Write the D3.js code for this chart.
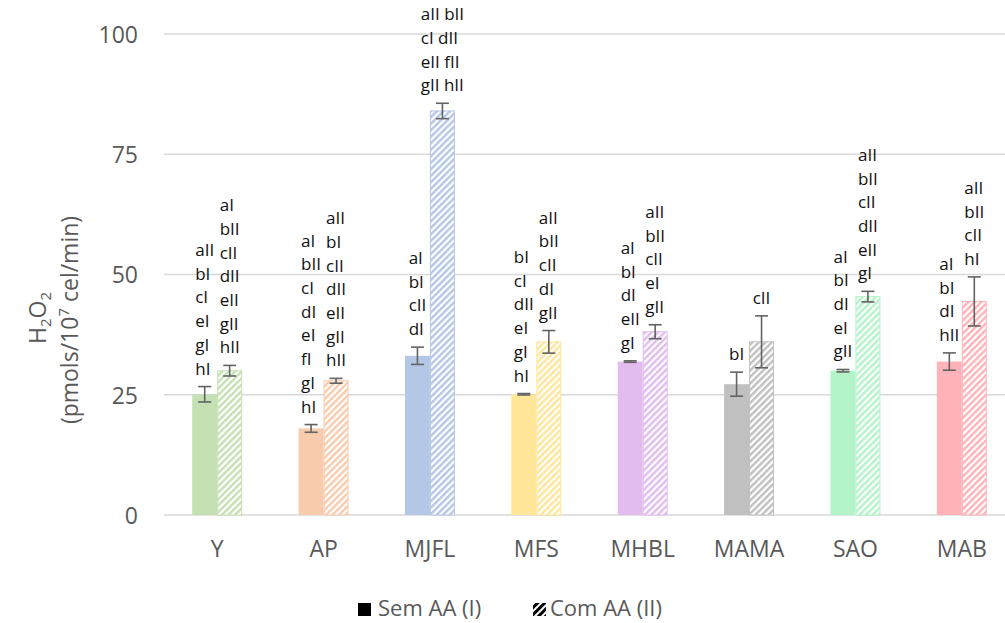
<!DOCTYPE html>
<html><head><meta charset="utf-8">
<script src="https://cdn.jsdelivr.net/npm/d3@7"></script>
<style>body{margin:0;background:#fff;overflow:hidden} text{font-family:"Open Sans",sans-serif}</style>
</head><body><svg id="c" width="1005" height="623"></svg>
<script>
const categories = ["Y","AP","MJFL","MFS","MHBL","MAMA","SAO","MAB"];
const semAA = [25.1, 18.0, 33.1, 25.1, 31.9, 27.2, 30.0, 31.9];
const semErr = [1.6, 0.8, 1.8, 0.15, 0.15, 2.5, 0.25, 1.8];
const comAA = [30.0, 27.9, 84.0, 36.0, 38.1, 36.0, 45.4, 44.4];
const comErr = [1.1, 0.5, 1.6, 2.35, 1.45, 5.4, 1.1, 5.1];
const semLabels = [
  ["aII","bI","cI","eI","gI","hI"],
  ["aI","bII","cI","dI","eI","fI","gI","hI"],
  ["aI","bI","cII","dI"],
  ["bI","cI","dII","eI","gI","hI"],
  ["aI","bI","dI","eII","gI"],
  ["bI"],
  ["aI","bI","dI","eI","gII"],
  ["aI","bI","dI","hII"]
];
const comLabels = [
  ["aI","bII","cII","dII","eII","gII","hII"],
  ["aII","bI","cII","dII","eII","gII","hII"],
  ["aII bII","cI dII","eII fII","gII hII"],
  ["aII","bII","cII","dI","gII"],
  ["aII","bII","cII","eI","gII"],
  ["cII"],
  ["aII","bII","cII","dII","eII","gI"],
  ["aII","bII","cII","hI"]
];
const colors = ["#c5e0b3","#f8cbad","#b4c7e7","#ffe699","#e2bcee","#c0c0c0","#b3f5c8","#ffb3b8"];
const yTicks = [0, 25, 50, 75, 100];
const seriesNames = ["Sem AA (I)", "Com AA (II)"];

const svg = d3.select("#c");
const defs = svg.append("defs");
const textCol = "#595959";

colors.forEach((c, i) => {
  const p = defs.append("pattern").attr("id", "h" + i).attr("patternUnits", "userSpaceOnUse")
    .attr("width", 4.6).attr("height", 4.6).attr("patternTransform", "rotate(45)");
  p.append("rect").attr("width", 4.6).attr("height", 4.6).attr("fill", "#fff");
  p.append("line").attr("x1", 1.2).attr("x2", 1.2).attr("y1", 0).attr("y2", 4.6)
    .attr("stroke", c).attr("stroke-width", 2.4);
});
const pk = defs.append("pattern").attr("id", "hk").attr("patternUnits", "userSpaceOnUse")
  .attr("width", 5).attr("height", 5).attr("patternTransform", "rotate(45)");
pk.append("rect").attr("width", 5).attr("height", 5).attr("fill", "#fff");
pk.append("line").attr("x1", 1.5).attr("x2", 1.5).attr("y1", 0).attr("y2", 5)
  .attr("stroke", "#000").attr("stroke-width", 3);

const y = d3.scaleLinear().domain([0, 100]).range([515, 34]);
const x0 = d3.scaleBand().domain(categories).range([164, 1015]).padding(0);
const x1 = d3.scaleBand().domain(["I","II"]).range([0, x0.bandwidth()]).paddingOuter(1.13).paddingInner(0);

// gridlines
svg.append("g").selectAll("line").data(yTicks).join("line")
  .attr("x1", 164).attr("x2", 1015)
  .attr("y1", d => y(d)).attr("y2", d => y(d))
  .attr("stroke", "#d9d9d9").attr("stroke-width", 1.3);

// y axis labels
const yAxis = svg.append("g").attr("transform", "translate(138,0)")
  .call(d3.axisLeft(y).tickValues(yTicks).tickSize(0).tickPadding(0));
yAxis.select(".domain").remove();
yAxis.selectAll("text").attr("fill", textCol).attr("font-size", 23)
  .attr("font-family", "'Open Sans',sans-serif").attr("dy", "0.36em");

// x axis labels
const xAxis = svg.append("g").attr("transform", "translate(0,515)")
  .call(d3.axisBottom(x0).tickSize(0).tickPadding(0));
xAxis.select(".domain").remove();
xAxis.selectAll("text").attr("fill", textCol).attr("font-size", 23)
  .attr("font-family", "'Open Sans',sans-serif").attr("dy", "1.82em");

// bars
const g = svg.append("g");
categories.forEach((cat, i) => {
  const bx = x0(cat);
  const rows = [
    {k: "I", v: semAA[i], e: semErr[i], labels: semLabels[i], fill: colors[i], stroke: "none"},
    {k: "II", v: comAA[i], e: comErr[i], labels: comLabels[i], fill: "url(#h" + i + ")", stroke: colors[i]}
  ];
  rows.forEach(r => {
    const xx = bx + x1(r.k), w = x1.bandwidth();
    g.append("rect").attr("x", xx + (r.stroke === "none" ? 0 : 0.5)).attr("y", y(r.v))
      .attr("width", w - (r.stroke === "none" ? 0 : 1)).attr("height", y(0) - y(r.v))
      .attr("fill", r.fill).attr("stroke", r.stroke).attr("stroke-width", 1);
    const cx = xx + w / 2;
    const eg = g.append("g").attr("stroke", "#636363").attr("stroke-width", 1.6);
    eg.append("line").attr("x1", cx).attr("x2", cx).attr("y1", y(r.v + r.e)).attr("y2", y(r.v - r.e));
    [r.v + r.e, r.v - r.e].forEach(val => eg.append("line").attr("x1", cx - 6.5).attr("x2", cx + 6.5)
      .attr("y1", y(val)).attr("y2", y(val)));
    // labels
    const n = r.labels.length;
    const baseY = y(r.v + r.e) - 12;
    const tg = g.append("g");
    const texts = tg.selectAll("text").data(r.labels).join("text")
      .attr("y", (d, j) => baseY - (n - 1 - j) * 23.7)
      .attr("font-size", 17).attr("fill", "#111")
      .attr("xml:space", "preserve")
      .text(d => d);
    let mw = 0;
    texts.each(function(){ mw = Math.max(mw, this.getComputedTextLength()); });
    texts.attr("x", cx - mw / 2);
  });
});

// y axis title
const t1 = svg.append("text").attr("transform", "translate(46,318) rotate(-90)")
  .attr("text-anchor", "middle").attr("font-size", 23).attr("fill", textCol);
t1.append("tspan").text("H");
t1.append("tspan").attr("font-size", 15).attr("dy", 5).text("2");
t1.append("tspan").attr("dy", -5).text("O");
t1.append("tspan").attr("font-size", 15).attr("dy", 5).text("2");
const t2 = svg.append("text").attr("transform", "translate(78,320) rotate(-90)")
  .attr("text-anchor", "middle").attr("font-size", 23).attr("fill", textCol);
t2.append("tspan").text("(pmols/10");
t2.append("tspan").attr("font-size", 15).attr("dy", -9).text("7");
t2.append("tspan").attr("dy", 9).text(" cel/min)");

// legend
const lg = svg.append("g");
lg.append("rect").attr("x", 358).attr("y", 603).attr("width", 13).attr("height", 13).attr("fill", "#000");
lg.append("text").attr("x", 378).attr("y", 616).attr("font-size", 22).attr("fill", textCol).text(seriesNames[0]);
lg.append("rect").attr("x", 533).attr("y", 603).attr("width", 13).attr("height", 13).attr("fill", "url(#hk)");
lg.append("text").attr("x", 550).attr("y", 616).attr("font-size", 22).attr("fill", textCol).text(seriesNames[1]);
</script></body></html>
